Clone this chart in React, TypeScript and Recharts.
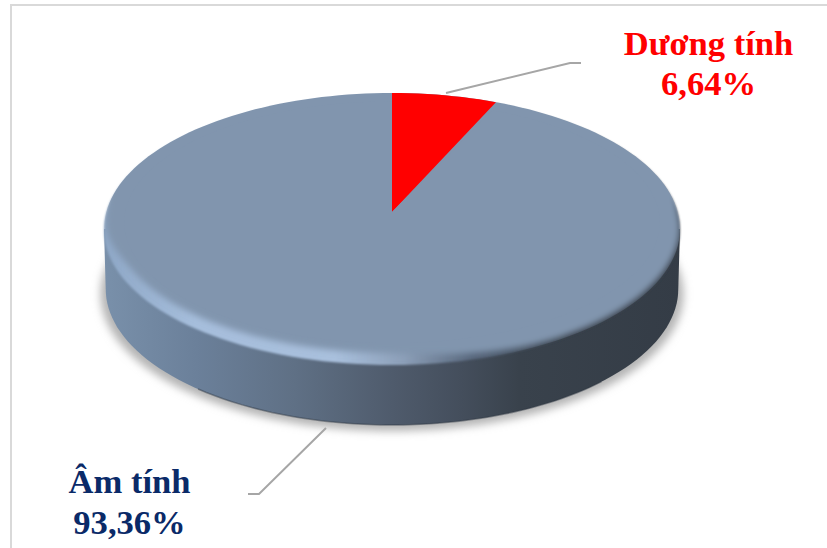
import React from "react";
import { PieChart, Pie } from "recharts";

const categories = ["Dương tính", "Âm tính"];
const percentages = [6.64, 93.36];
const labelColors = ["#ff0000", "#0a2a68"];

const chartData = categories.map((name, i) => ({ name, value: percentages[i] }));
// single slice spanning the full circle, used for the disc body layers
const discData = [{ name: "disc", value: percentages.reduce((a, b) => a + b, 0) }];

const WIDTH = 827;
const HEIGHT = 548;
const CX = 392;
const CY = 212;
const RADIUS = 288;
const DEPTH = 60;
const FLAT_GREY = "#8195ae";

// label anchor and baselines per slice, leader polyline per slice
const labelAnchors = [
  { x: 708.5, y1: 55, y2: 95 },
  { x: 129.5, y1: 493, y2: 534 },
];
const leaders = ["446,93 570,63 581,63", "326,428 259,494 248,494"];

type Tilt = { up: number; down: number };
const RIM: Tilt = { up: 119, down: 153 };
const FACE: Tilt = { up: 119, down: 141 };
// angle past 180/360 degrees where the projected rim is at its widest
const WIDEST_OFFSET = 7.2;

// circle seen in perspective: front half stretched, back half squeezed
function project(angle: number, cx: number, cy: number, rx: number, tilt: Tilt) {
  const a = (tilt.down - tilt.up) / (tilt.down + tilt.up);
  const ry0 = tilt.up * (1 + a);
  const rx0 = rx * Math.sqrt(1 - a * a);
  const t = (angle * Math.PI) / 180;
  const w = 1 + a * Math.sin(t);
  return [cx + (rx0 * Math.cos(t)) / w, cy - (ry0 * Math.sin(t)) / w];
}

function arc(start: number, end: number, cx: number, cy: number, rx: number, tilt: Tilt) {
  const steps = Math.max(2, Math.ceil(Math.abs(end - start) / 2));
  const pts: string[] = [];
  for (let i = 0; i <= steps; i++) {
    const [x, y] = project(start + ((end - start) * i) / steps, cx, cy, rx, tilt);
    pts.push(`${x.toFixed(2)} ${y.toFixed(2)}`);
  }
  return pts;
}

function disc(cx: number, cy: number, rx: number, tilt: Tilt) {
  return `M${arc(90, -270, cx, cy, rx, tilt).join("L")}Z`;
}

function smooth(lo: number, hi: number, v: number) {
  const t = Math.min(1, Math.max(0, (v - lo) / (hi - lo)));
  return t * t * (3 - 2 * t);
}

// flat top: overshoots the rim along the back (clipped later, so that edge stays sharp),
// pulls in over the bevel at the front left
function facePath(cx: number, cy: number, r: number) {
  const pts: string[] = [];
  for (let deg = 0; deg < 360; deg += 2) {
    const t = (deg * Math.PI) / 180;
    const grow = 9 * smooth(-0.02, 0.3, Math.sin(t));
    const [ox, oy] = project(deg, cx, cy, r + grow, { up: RIM.up + grow, down: RIM.down });
    const [ix, iy] = project(deg, cx + 2, cy, r - 7, FACE);
    const front = smooth(-0.02, 0.45, -Math.sin(t));
    const side = 0.2 + 0.8 * smooth(-0.55, 0.1, -Math.cos(t));
    const k = front * side;
    pts.push(`${(ox + (ix - ox) * k).toFixed(2)} ${(oy + (iy - oy) * k).toFixed(2)}`);
  }
  return `M${pts.join("L")}Z`;
}

function wallPath(cx: number, cy: number, r: number) {
  const [lx, ly] = project(180 + WIDEST_OFFSET, cx, cy, r, RIM);
  const [rxx, ry] = project(360 - WIDEST_OFFSET, cx, cy, r, RIM);
  const bottom = arc(180 + WIDEST_OFFSET, 360 - WIDEST_OFFSET, cx, cy + DEPTH, r * 0.994, RIM);
  return `M${lx} ${ly}L${bottom.join("L")}L${rxx} ${ry}Z`;
}

function ShadowShape({ cx, cy, outerRadius }: any) {
  return (
    <path
      d={disc(cx, cy + DEPTH + 4, outerRadius * 1.012, { up: RIM.up, down: RIM.down + 2 })}
      fill="#b4b4b4"
      filter="url(#soft6)"
    />
  );
}

function WallShape({ cx, cy, outerRadius }: any) {
  return (
    <g>
      <path d={wallPath(cx, cy, outerRadius)} fill="url(#wallGrad)" />
      <path
        d={`M${arc(232, 312, cx, cy + DEPTH, outerRadius * 0.994, RIM).join("L")}`}
        fill="none"
        stroke="#2f3843"
        strokeOpacity={0.45}
        strokeWidth={1.5}
      />
    </g>
  );
}

function BevelShape({ cx, cy, outerRadius }: any) {
  // pulled in a little at the back so the blur leaves no fringe above the face
  return (
    <path d={disc(cx, cy, outerRadius, { up: RIM.up - 2, down: RIM.down })} fill="url(#bevelGrad)" filter="url(#soft1)" />
  );
}

function FaceShape({ cx, cy, outerRadius }: any) {
  return (
    <g clipPath="url(#rimClip)">
      <path d={facePath(cx, cy, outerRadius)} fill={FLAT_GREY} filter="url(#soft3)" />
    </g>
  );
}

// the two real slices: the positive one reaches the rim, the negative one sits inside the face
function SliceShape({ cx, cy, outerRadius, startAngle, endAngle, index }: any) {
  const isPositive = index === 0;
  const r = isPositive ? outerRadius : outerRadius * 0.93;
  const tilt = isPositive ? RIM : { up: RIM.up * 0.93, down: FACE.down * 0.93 };
  const edge = arc(startAngle, endAngle, cx, cy, r, tilt).join("L");
  return <path d={`M${cx} ${cy}L${edge}Z`} fill={isPositive ? "#ff0000" : FLAT_GREY} />;
}

function renderLabel({ index, name, value }: any) {
  const pos = labelAnchors[index];
  const style = { fontFamily: "'Liberation Serif', serif", fontWeight: 700, fontSize: 34.6 };
  return (
    <g key={name}>
      <text x={pos.x} y={pos.y1} textAnchor="middle" fill={labelColors[index]} style={style}>
        {name}
      </text>
      <text x={pos.x} y={pos.y2} textAnchor="middle" fill={labelColors[index]} style={style}>
        {`${value.toFixed(2).replace(".", ",")}%`}
      </text>
    </g>
  );
}

function renderLeader({ index }: any) {
  return <polyline key={index} points={leaders[index]} fill="none" stroke="#a6a6a6" strokeWidth={2} />;
}

const layerProps = {
  dataKey: "value",
  nameKey: "name",
  cx: CX,
  cy: CY,
  outerRadius: RADIUS,
  startAngle: 90,
  endAngle: -270,
  isAnimationActive: false,
  stroke: "none",
};

export default function App() {
  return (
    <div style={{ position: "relative", width: WIDTH, height: HEIGHT, background: "#fff" }}>
      <style>{"body{margin:0;overflow:hidden}"}</style>
      <div
        style={{
          position: "absolute",
          left: 10,
          top: 4,
          right: 0,
          bottom: 0,
          borderLeft: "2px solid #d9d9d9",
          borderTop: "2px solid #d9d9d9",
        }}
      />
      <div style={{ position: "absolute", left: 0, top: 0 }}>
        <PieChart width={WIDTH} height={HEIGHT} margin={{ top: 0, right: 0, bottom: 0, left: 0 }}>
          <defs>
            <linearGradient id="wallGrad" gradientUnits="userSpaceOnUse" x1={104} y1={0} x2={681} y2={0}>
              <stop offset="0" stopColor="#7990aa" />
              <stop offset="0.16" stopColor="#6b809a" />
              <stop offset="0.33" stopColor="#5f7085" />
              <stop offset="0.5" stopColor="#4f5b6c" />
              <stop offset="0.62" stopColor="#444e5c" />
              <stop offset="0.72" stopColor="#39424c" />
              <stop offset="1" stopColor="#343c46" />
            </linearGradient>
            <linearGradient id="bevelGrad" gradientUnits="userSpaceOnUse" x1={104} y1={0} x2={681} y2={0}>
              <stop offset="0" stopColor="#8ea7c6" />
              <stop offset="0.16" stopColor="#a6bedc" />
              <stop offset="0.4" stopColor="#a9c0dd" />
              <stop offset="0.52" stopColor="#8c9fb8" />
              <stop offset="0.64" stopColor="#56657a" />
              <stop offset="0.8" stopColor="#3a434d" />
              <stop offset="1" stopColor="#3a434d" />
            </linearGradient>
            <filter id="soft1" x="-5%" y="-5%" width="110%" height="110%">
              <feGaussianBlur stdDeviation="1" />
            </filter>
            <filter id="soft3" x="-5%" y="-5%" width="110%" height="110%">
              <feGaussianBlur stdDeviation="3.2" />
            </filter>
            <filter id="soft6" x="-5%" y="-10%" width="110%" height="120%">
              <feGaussianBlur stdDeviation="4.5" />
            </filter>
            <clipPath id="rimClip">
              <path d={disc(CX, CY, RADIUS, RIM)} />
            </clipPath>
          </defs>
          <Pie {...layerProps} data={discData} shape={ShadowShape} />
          <Pie {...layerProps} data={discData} shape={WallShape} />
          <Pie {...layerProps} data={discData} shape={BevelShape} />
          <Pie {...layerProps} data={discData} shape={FaceShape} />
          <Pie {...layerProps} data={chartData} shape={SliceShape} label={renderLabel} labelLine={renderLeader} />
        </PieChart>
      </div>
    </div>
  );
}
